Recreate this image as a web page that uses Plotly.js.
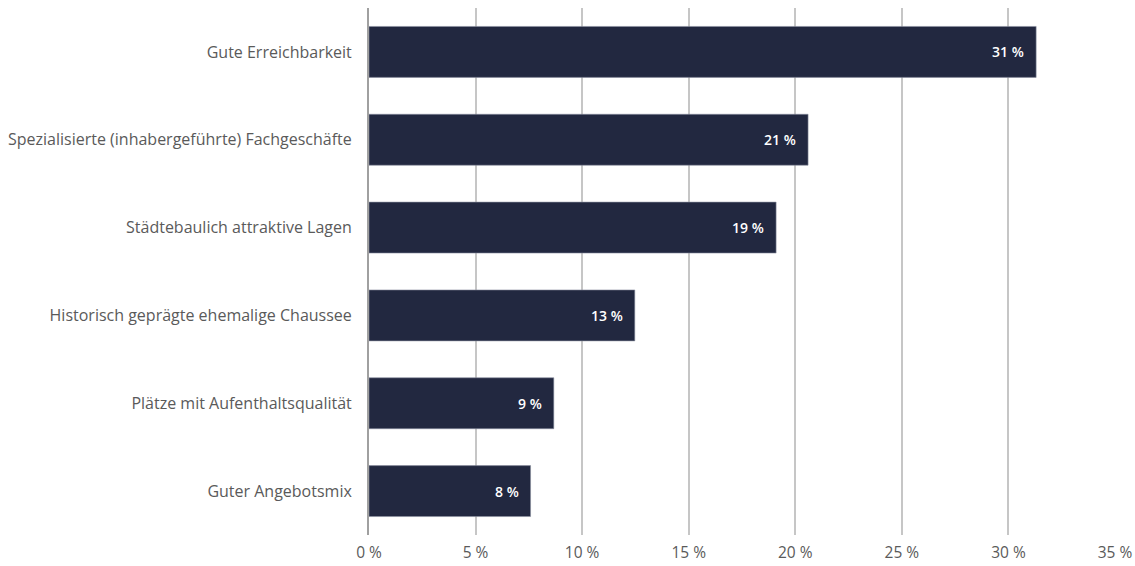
<!DOCTYPE html>
<html>
<head>
<meta charset="utf-8">
<script src="https://cdn.plot.ly/plotly-3.0.1.min.js"></script>
<style>html,body{margin:0;padding:0;background:#fff;}#chart{width:1135px;height:566px;}</style>
</head>
<body>
<div id="chart"></div>
<script>
const categories = [
  "Gute Erreichbarkeit",
  "Spezialisierte (inhabergeführte) Fachgeschäfte",
  "Städtebaulich attraktive Lagen",
  "Historisch geprägte ehemalige Chaussee",
  "Plätze mit Aufenthaltsqualität",
  "Guter Angebotsmix"
];
const values = [31.3, 20.6, 19.1, 12.47, 8.67, 7.58];
const valueLabels = ["31 %", "21 %", "19 %", "13 %", "9 %", "8 %"];
const tickVals = [0, 5, 10, 15, 20, 25, 30, 35];
const tickText = ["0 %", "5 %", "10 %", "15 %", "20 %", "25 %", "30 %", "35 %"];

const FONT = "'Open Sans', sans-serif";

const trace = {
  type: "bar",
  orientation: "h",
  y: categories,
  x: values,
  marker: {color: "#222840", line: {color: "#8a8fa0", width: 0.6}},
  hoverinfo: "none"
};

const annotations = values.map((v, i) => ({
  x: v,
  y: categories[i],
  xref: "x",
  yref: "y",
  text: valueLabels[i],
  showarrow: false,
  xanchor: "right",
  yanchor: "middle",
  xshift: -10,
  font: {family: FONT, size: 14, color: "#ffffff", weight: 600}
}));

const layout = {
  width: 1135,
  height: 566,
  margin: {l: 369, r: 20, t: 8, b: 31},
  paper_bgcolor: "#ffffff",
  plot_bgcolor: "#ffffff",
  showlegend: false,
  bargap: 0.42,
  font: {family: FONT, size: 16, color: "#555555"},
  annotations: annotations,
  xaxis: {
    range: [0, 35],
    tickvals: tickVals,
    ticktext: tickText,
    showgrid: true,
    gridcolor: "#c6c6c6",
    gridwidth: 2,
    zeroline: false,
    showline: false,
    ticks: "",
    ticklabelstandoff: 6,
    tickfont: {family: FONT, size: 15.5, color: "#5a5a5a"},
    fixedrange: true
  },
  yaxis: {
    autorange: "reversed",
    showgrid: false,
    showline: true,
    linecolor: "#a0a0a0",
    linewidth: 2,
    ticks: "",
    ticklabelstandoff: 12,
    tickfont: {family: FONT, size: 16, color: "#5a5a5a"},
    fixedrange: true
  }
};

Plotly.newPlot("chart", [trace], layout, {displayModeBar: false, staticPlot: true});
</script>
</body>
</html>
